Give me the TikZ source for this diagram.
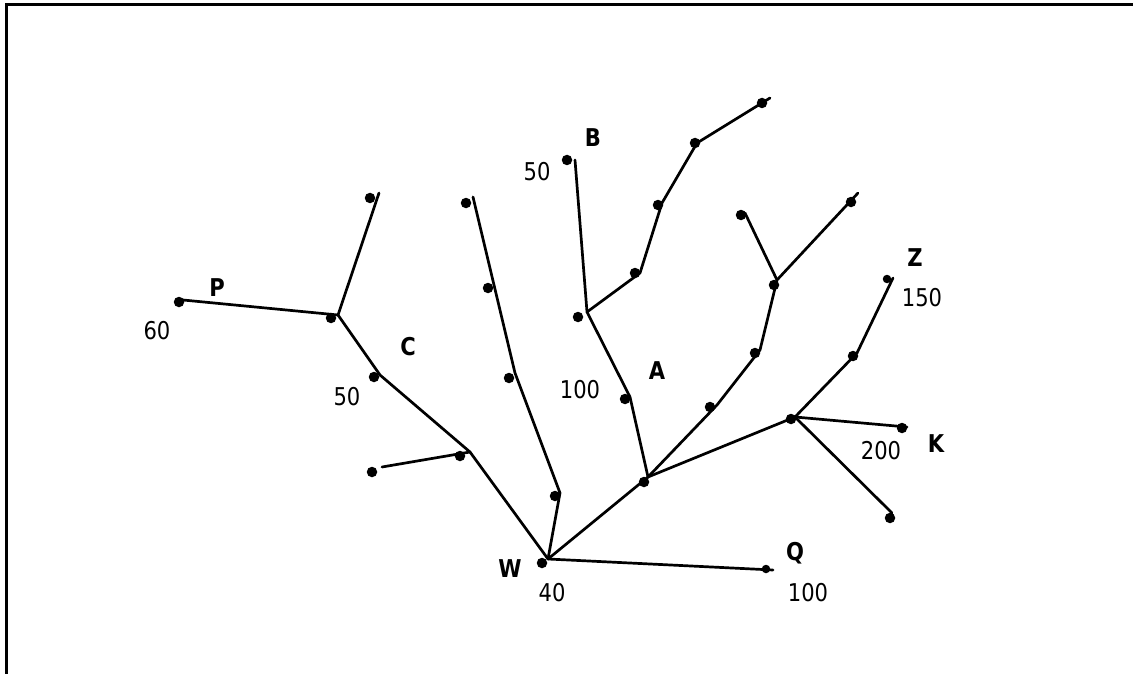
\documentclass[tikz,border=0pt]{standalone}
\usepackage{fontspec}
\setmainfont{DejaVu Sans}[FakeStretch=0.86]
\begin{document}
\begin{tikzpicture}[x=1pt,y=-1pt,
  pipe/.style={line width=2.7pt,line join=round,line cap=round},
  frameline/.style={line width=3pt},
  pt/.style={circle,fill=black,inner sep=0pt,minimum size=10.5pt},
  num/.style={font=\fontsize{24.5}{28}\selectfont,inner sep=0pt},
  tag/.style={font=\fontsize{24.5}{28}\selectfont\bfseries,inner sep=0pt}]
\useasboundingbox (0,0) rectangle (1133,674);
% frame: top and left edges only
\coordinate (fa) at (6,674);
\coordinate (fb) at (6,5);
\coordinate (fc) at (1133,5);
\draw[frameline] (fa) -- (fb) -- (fc);

% line vertices
\coordinate (p0) at (183,300);
\coordinate (j1) at (338,315);
\coordinate (t1) at (379,193);
\coordinate (c1) at (380,375);
\coordinate (c2) at (470,452);
\coordinate (s1) at (382,467);
\coordinate (w)  at (548,559);
\coordinate (q)  at (773,570);
\coordinate (l0) at (473,197);
\coordinate (l1) at (515,373);
\coordinate (l2) at (560,493);
\coordinate (b0) at (575,160);
\coordinate (b1) at (587,312);
\coordinate (u1) at (640,273);
\coordinate (u2) at (662,203);
\coordinate (u3) at (697,143);
\coordinate (u4) at (770,98);
\coordinate (a1) at (630,397);
\coordinate (a2) at (648,477);
\coordinate (r1) at (717,405);
\coordinate (r2) at (760,350);
\coordinate (r3) at (777,280);
\coordinate (r4) at (745,213);
\coordinate (r5) at (858,193);
\coordinate (k0) at (795,417);
\coordinate (k1) at (907,427);
\coordinate (k2) at (892,513);
\coordinate (z1) at (857,353);
\coordinate (z2) at (893,278);

% network lines
\draw[pipe] (p0) -- (j1) -- (t1);
\draw[pipe] (j1) -- (c1) -- (c2) -- (w);
\draw[pipe] (s1) -- (c2);
\draw[pipe] (l0) -- (l1) -- (l2) -- (w);
\draw[pipe] (w) -- (q);
\draw[pipe] (w) -- (a2);
\draw[pipe] (b0) -- (b1) -- (a1) -- (a2);
\draw[pipe] (b1) -- (u1) -- (u2) -- (u3) -- (u4);
\draw[pipe] (a2) -- (r1) -- (r2) -- (r3) -- (r5);
\draw[pipe] (r3) -- (r4);
\draw[pipe] (a2) -- (k0) -- (k1);
\draw[pipe] (k0) -- (k2);
\draw[pipe] (k0) -- (z1) -- (z2);

% points
\node[pt] (dP)  at (179,302) {};
\node[pt] (dJ)  at (331,318) {};
\node[pt] (dT)  at (370,198) {};
\node[pt] (dC)  at (374,377) {};
\node[pt] (dC2) at (460,456) {};
\node[pt] (dS)  at (372,472) {};
\node[pt] (dW)  at (542,563) {};
\node[pt,minimum size=8.5pt] (dQ) at (766,569) {};
\node[pt] (dL0) at (466,203) {};
\node[pt] (dL1) at (488,288) {};
\node[pt] (dL2) at (509,378) {};
\node[pt] (dL3) at (555,496) {};
\node[pt] (dB)  at (567,160) {};
\node[pt] (dB1) at (578,317) {};
\node[pt] (dU1) at (635,273) {};
\node[pt] (dU2) at (658,205) {};
\node[pt] (dU3) at (695,143) {};
\node[pt] (dU4) at (762,103) {};
\node[pt] (dA1) at (625,399) {};
\node[pt] (dA2) at (644,482) {};
\node[pt] (dR4) at (741,215) {};
\node[pt] (dR3) at (774,285) {};
\node[pt] (dR5) at (851,202) {};
\node[pt] (dR2) at (755,353) {};
\node[pt] (dR1) at (710,407) {};
\node[pt] (dK0) at (791,419) {};
\node[pt] (dK1) at (902,428) {};
\node[pt] (dK2) at (890,518) {};
\node[pt] (dZ1) at (853,356) {};
\node[pt,minimum size=8.5pt] (dZ2) at (887,279) {};

% labels
\node[tag] (lP) at (217,288) {P};
\node[num] (nP) at (157,331) {60};
\node[tag] (lC) at (408,347) {C};
\node[num] (nC) at (347,397) {50};
\node[tag] (lB) at (593,138) {B};
\node[num] (nB) at (537,172) {50};
\node[tag] (lA) at (657,371) {A};
\node[num] (nA) at (580,390) {100};
\node[tag] (lZ) at (915,258) {Z};
\node[num] (nZ) at (922,298) {150};
\node[num] (nK) at (881,451) {200};
\node[tag] (lK) at (936,444) {K};
\node[tag] (lW) at (510,569) {W};
\node[num] (nW) at (552,593) {40};
\node[tag] (lQ) at (795,553) {Q};
\node[num] (nQ) at (808,593) {100};
\end{tikzpicture}
\end{document}
